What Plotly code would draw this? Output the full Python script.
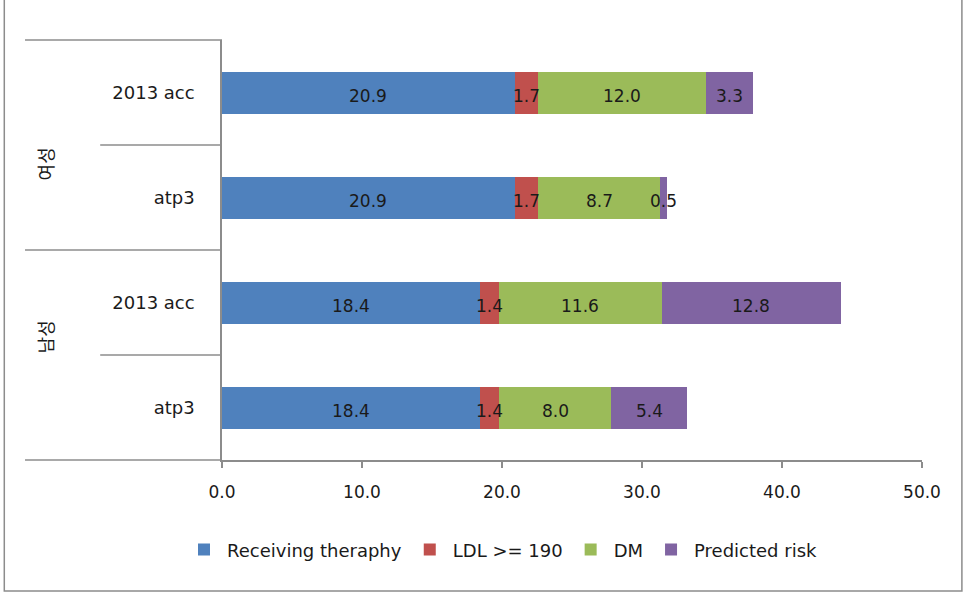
import plotly.graph_objects as go

# Categories (top to bottom): group, sub-category
groups = ["여성", "여성", "남성", "남성"]
subs = ["2013 acc", "atp3", "2013 acc", "atp3"]

series_names = ["Receiving theraphy", "LDL >= 190", "DM", "Predicted risk"]
receiving = [20.9, 20.9, 18.4, 18.4]
ldl = [1.7, 1.7, 1.4, 1.4]
dm = [12.0, 8.7, 11.6, 8.0]
predicted = [3.3, 0.5, 12.8, 5.4]
series_values = [receiving, ldl, dm, predicted]
colors = ["#4F81BD", "#C0504D", "#9BBB59", "#8064A2"]

x_ticks = [0, 10, 20, 30, 40, 50]
x_tick_labels = ["0.0", "10.0", "20.0", "30.0", "40.0", "50.0"]

FONT = "DejaVu Sans, Noto Sans CJK KR, sans-serif"
GRAY = "#8C8C8C"
TXT = "#1a1a1a"

ypos = list(range(len(subs)))
n = len(subs)

fig = go.Figure()
for name, vals, col in zip(series_names, series_values, colors):
    fig.add_trace(go.Bar(
        y=ypos, x=vals, name=name, orientation="h",
        marker=dict(color=col, line=dict(width=0)),
        width=0.4,
    ))

annotations = []
# value labels centred in each segment, drawn above all bars
for i in ypos:
    base = 0.0
    for vals in series_values:
        v = vals[i]
        annotations.append(dict(x=base + v / 2, y=i, xref="x", yref="y",
                                text=f"{v:.1f}", showarrow=False, yshift=-3,
                                font=dict(family=FONT, size=17, color=TXT)))
        base += v

shapes = [
    # outer chart frame
    dict(type="rect", xref="paper", yref="paper", x0=-0.311, x1=1.057,
         y0=-0.312, y1=1.2, line=dict(color=GRAY, width=1.5)),
]
# category separators to the left of the plot
for k in range(n + 1):
    yk = 1 - k / n
    is_group_edge = (k == 0 or k == n or groups[k - 1] != groups[min(k, n - 1)])
    x0 = -0.2814 if is_group_edge else -0.174
    shapes.append(dict(type="line", xref="paper", yref="paper", x0=x0, x1=0,
                       y0=yk, y1=yk, line=dict(color=GRAY, width=1.5)))

# rotated group labels
seen = []
for g in groups:
    if g not in seen:
        seen.append(g)
for g in seen:
    idx = [i for i, gg in enumerate(groups) if gg == g]
    ycen = 1 - (min(idx) + max(idx) + 1) / 2 / n
    annotations.append(dict(text=g, xref="paper", yref="paper", x=-0.268, y=ycen,
                            showarrow=False, textangle=-90,
                            font=dict(family=FONT, size=18, color=TXT)))

fig.update_layout(
    barmode="stack",
    width=967, height=593,
    margin=dict(l=222, r=45, t=40, b=133),
    paper_bgcolor="white", plot_bgcolor="white",
    showlegend=True,
    legend=dict(orientation="h", x=0.4, xanchor="center", y=-0.214, yanchor="middle",
                font=dict(family=FONT, size=18, color=TXT),
                itemwidth=36, traceorder="normal"),
    xaxis=dict(range=[0, 50], tickvals=x_ticks, ticktext=x_tick_labels,
               showgrid=False, zeroline=False, showline=True, linecolor=GRAY, linewidth=1.5,
               ticks="outside", ticklen=6, tickcolor=GRAY, tickwidth=1.5,
               ticklabelstandoff=10,
               tickfont=dict(family=FONT, size=17, color=TXT)),
    yaxis=dict(range=[n - 0.5, -0.5], tickvals=ypos, ticktext=subs,
               showgrid=False, zeroline=False, showline=True, linecolor=GRAY, linewidth=1.5,
               ticks="", ticklabelstandoff=22,
               tickfont=dict(family=FONT, size=18, color=TXT)),
    shapes=shapes,
    annotations=annotations,
)

fig.write_html("out.html")
